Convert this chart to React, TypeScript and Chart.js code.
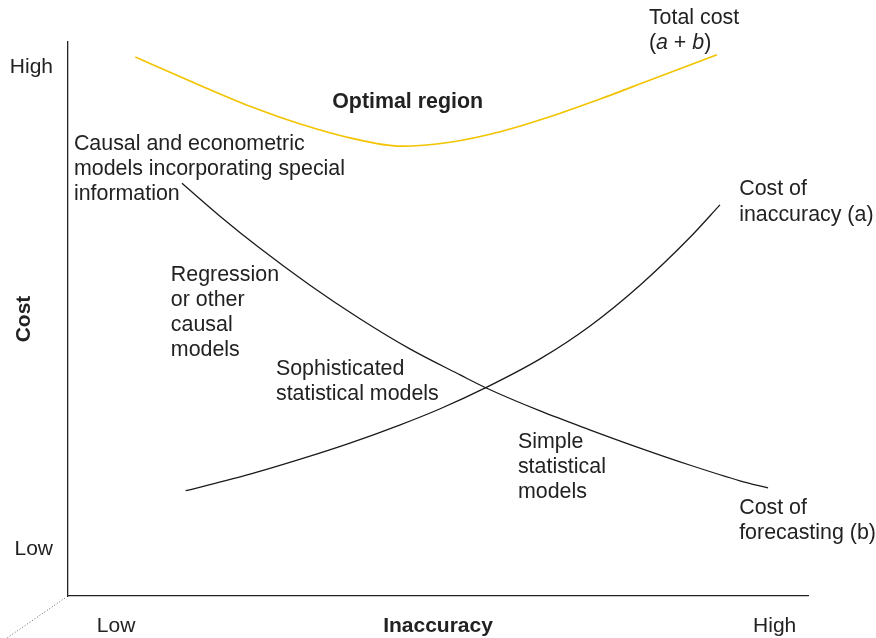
import { useEffect, useRef } from 'react';
import { Chart, registerables } from 'chart.js';

Chart.register(...registerables);

// ---- data (x = inaccuracy 0..100, y = cost 0..100) ----
const totalCostX = [9.1, 17.8, 24.6, 31.4, 38.1, 44.9, 51.6, 58.4, 65.1, 71.9, 78.6, 87.7];
const totalCostY = [97.3, 92.2, 88.4, 85.2, 82.7, 81.2, 81.9, 83.8, 86.5, 89.7, 93.1, 97.7];

const forecastX = [15.4, 20.5, 25.9, 32.7, 39.5, 46.2, 53.0, 56.6, 63.8, 70.5, 77.3, 84.1, 90.8, 94.6];
const forecastY = [74.5, 68.6, 62.8, 56.1, 50.0, 44.6, 39.9, 37.5, 33.4, 30.0, 26.7, 23.6, 20.8, 19.5];

const inaccuracyX = [15.9, 24.6, 31.4, 38.1, 44.9, 50.3, 56.6, 63.8, 70.5, 77.3, 84.1, 88.1];
const inaccuracyY = [19.0, 22.0, 24.7, 27.6, 30.9, 33.8, 37.7, 42.8, 48.7, 56.1, 64.8, 70.6];

const xTickValues = [6.5, 95.5];
const xTickLabels = ['Low', 'High'];
const yTickValues = [8.4, 95.4];
const yTickLabels = ['Low', 'High'];

type Seg = { t: string; italic?: boolean };
type Note = { x: number; y: number; lines: Seg[][]; bold?: boolean; gap?: number };

const plain = (s: string): Seg[] => [{ t: s }];

const notes: Note[] = [
  { x: 78.5, y: 104.3, lines: [plain('Total cost'), [{ t: '(' }, { t: 'a', italic: true }, { t: ' + ' }, { t: 'b', italic: true }, { t: ')' }]] },
  { x: 35.7, y: 89.2, lines: [plain('Optimal region')], bold: true },
  { x: 0.8, y: 81.6, lines: [plain('Causal and econometric'), plain('models incorporating special'), plain('information')] },
  { x: 13.9, y: 57.9, lines: [plain('Regression'), plain('or other'), plain('causal'), plain('models')] },
  { x: 28.1, y: 41.0, lines: [plain('Sophisticated'), plain('statistical models')] },
  { x: 60.8, y: 27.8, lines: [plain('Simple'), plain('statistical'), plain('models')] },
  { x: 90.7, y: 73.4, lines: [plain('Cost of'), plain('inaccuracy (a)')], gap: 26 },
  { x: 90.7, y: 15.9, lines: [plain('Cost of'), plain('forecasting (b)')] },
];

const FONT = '"Liberation Sans", Arial, Helvetica, sans-serif';
const TEXT = '#222222';

const pts = (xs: number[], ys: number[]) => xs.map((x, i) => ({ x, y: ys[i] }));

const notesPlugin = {
  id: 'notes',
  afterDraw(chart: any) {
    const ctx = chart.ctx as CanvasRenderingContext2D;
    const xs = chart.scales.x;
    const ys = chart.scales.y;
    const area = chart.chartArea;
    ctx.save();
    // dotted corner mark
    ctx.strokeStyle = '#666';
    ctx.lineWidth = 1;
    ctx.setLineDash([1, 2]);
    ctx.beginPath();
    ctx.moveTo(area.left - 3, area.bottom + 2);
    ctx.lineTo(area.left - 61, area.bottom + 42);
    ctx.stroke();
    ctx.setLineDash([]);

    ctx.fillStyle = TEXT;
    ctx.textBaseline = 'middle';
    ctx.textAlign = 'left';
    for (const n of notes) {
      const px = xs.getPixelForValue(n.x);
      const py = ys.getPixelForValue(n.y);
      const gap = n.gap ?? 25;
      n.lines.forEach((line, i) => {
        let cx = px;
        for (const seg of line) {
          ctx.font = `${seg.italic ? 'italic ' : ''}${n.bold ? 'bold ' : ''}21.4px ${FONT}`;
          ctx.fillText(seg.t, cx, py + i * gap);
          cx += ctx.measureText(seg.t).width;
        }
      });
    }
    ctx.restore();
  },
};

export default function App() {
  const ref = useRef<HTMLCanvasElement | null>(null);
  useEffect(() => {
    if (!ref.current) return;
    const line = (label: string, data: any, color: string, width: number) => ({
      label,
      data,
      borderColor: color,
      borderWidth: width,
      pointRadius: 0,
      cubicInterpolationMode: 'monotone' as const,
      fill: false,
    });
    const chart = new Chart(ref.current, {
      type: 'line',
      data: {
        datasets: [
          line('Total cost (a + b)', pts(totalCostX, totalCostY), '#f2c400', 1.7),
          line('Cost of forecasting (b)', pts(forecastX, forecastY), '#1a1a1a', 1.3),
          line('Cost of inaccuracy (a)', pts(inaccuracyX, inaccuracyY), '#1a1a1a', 1.3),
        ],
      },
      options: {
        responsive: false,
        animation: false,
        layout: { padding: { top: 42, right: 68, left: 0, bottom: 0 } },
        plugins: { legend: { display: false }, tooltip: { enabled: false } },
        scales: {
          x: {
            type: 'linear',
            min: 0,
            max: 100,
            grid: { display: false, drawTicks: false },
            border: { display: true, color: '#222', width: 1.3 },
            afterBuildTicks: (s: any) => {
              s.ticks = xTickValues.map((v) => ({ value: v }));
            },
            afterFit: (s: any) => {
              s.height = 42;
            },
            ticks: {
              autoSkip: false,
              maxRotation: 0,
              padding: 18,
              color: TEXT,
              font: { family: FONT, size: 21 },
              callback: (_v: any, i: number) => xTickLabels[i],
            },
            title: {
              display: true,
              text: 'Inaccuracy',
              color: TEXT,
              font: { family: FONT, size: 21, weight: 'bold' },
              padding: { top: 0, bottom: -1 },
            },
          },
          y: {
            type: 'linear',
            min: 0,
            max: 100,
            grid: { display: false, drawTicks: false },
            border: { display: true, color: '#222', width: 1.3 },
            afterBuildTicks: (s: any) => {
              s.ticks = yTickValues.map((v) => ({ value: v }));
            },
            afterFit: (s: any) => {
              s.width = 68;
            },
            ticks: {
              autoSkip: false,
              padding: 15,
              color: TEXT,
              font: { family: FONT, size: 21 },
              callback: (_v: any, i: number) => yTickLabels[i],
            },
            title: {
              display: true,
              text: 'Cost',
              color: TEXT,
              font: { family: FONT, size: 21, weight: 'bold' },
              padding: { top: 12, bottom: 0 },
            },
          },
        },
      },
      plugins: [notesPlugin],
    });
    return () => chart.destroy();
  }, []);
  return (
    <div style={{ position: 'fixed', left: 0, top: 0, width: 876, height: 638, background: '#fff' }}>
      <canvas ref={ref} width={876} height={638} />
    </div>
  );
}
